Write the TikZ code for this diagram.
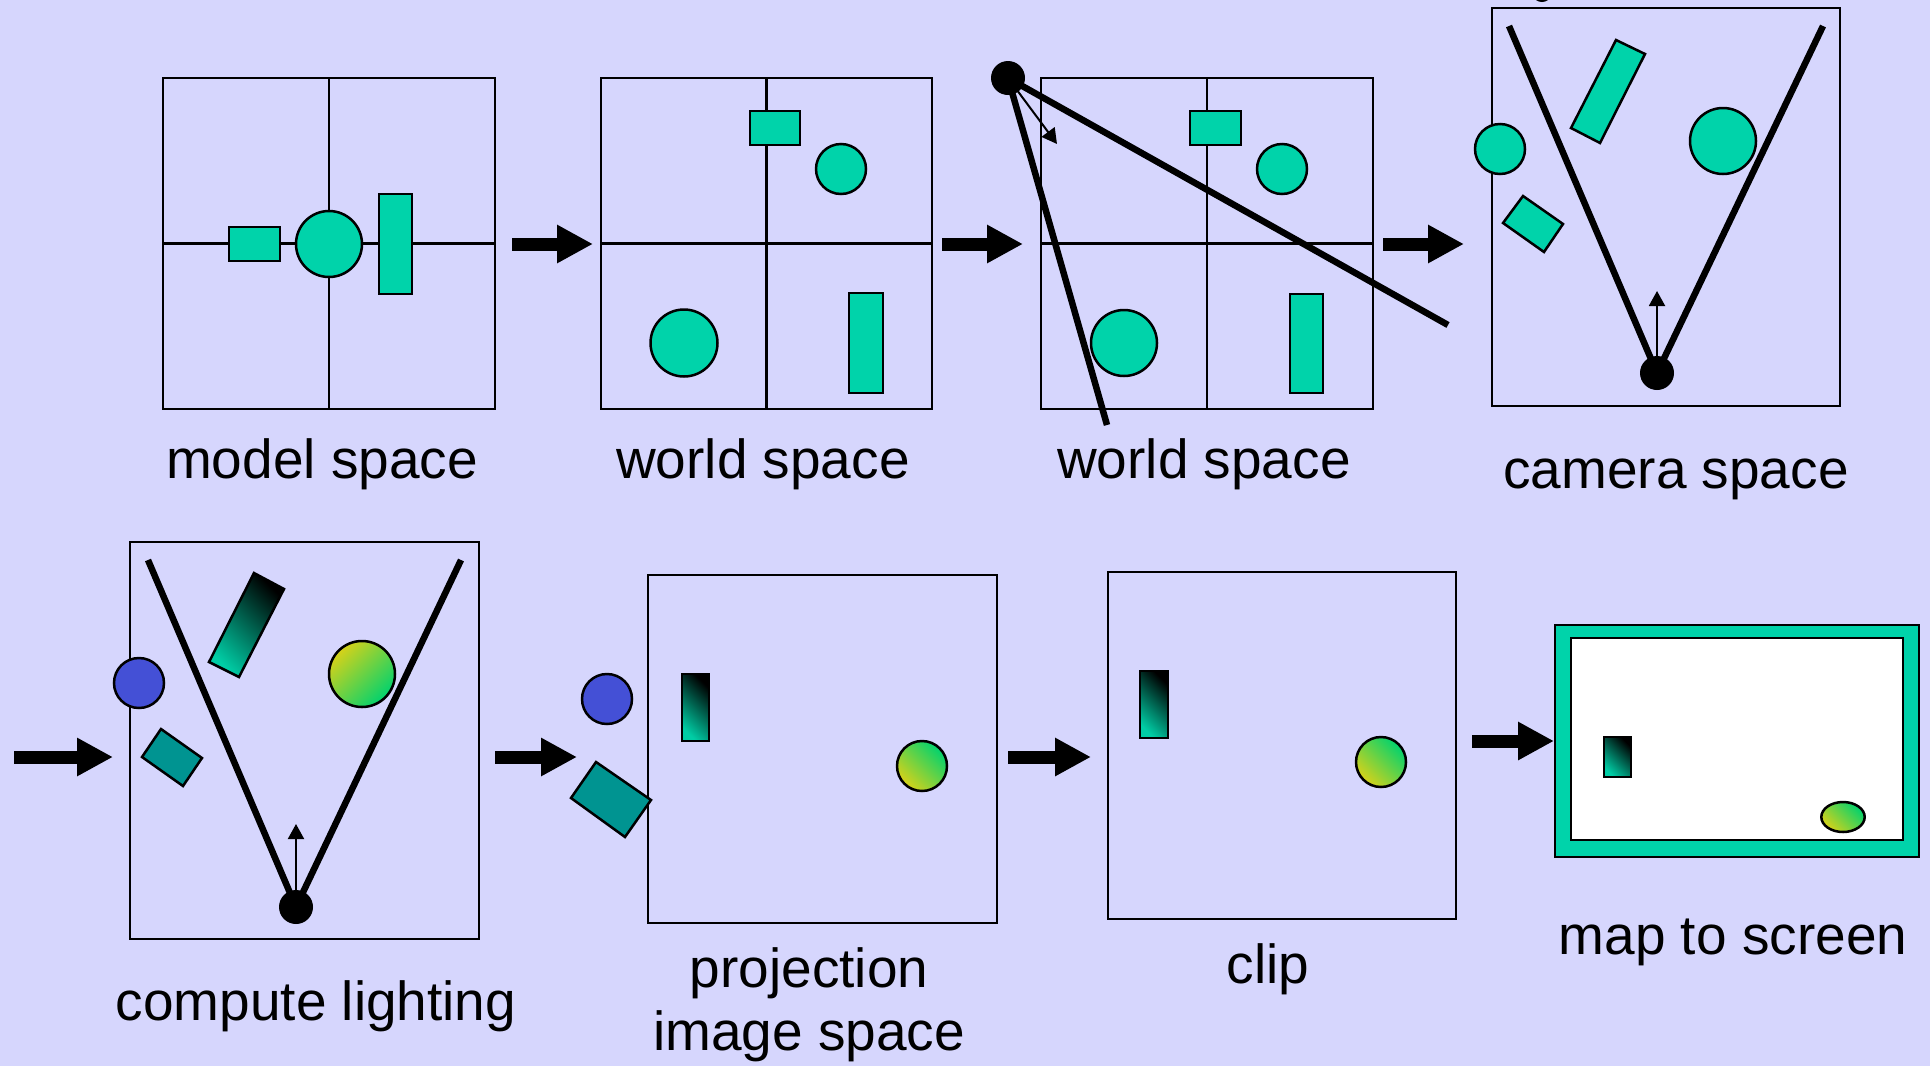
\documentclass[tikz,border=0pt]{standalone}
\usepackage{fontspec}
\setmainfont{Liberation Sans}
\usetikzlibrary{arrows.meta}
\definecolor{bg}{RGB}{214,214,253}
\definecolor{teal1}{RGB}{0,211,170}
\definecolor{blueb}{RGB}{68,80,214}
\definecolor{darkteal}{RGB}{0,148,145}
\definecolor{gradA}{RGB}{0,205,165}
\definecolor{yel}{RGB}{215,210,25}
\definecolor{grn}{RGB}{0,210,110}
\tikzset{
  panel/.style={draw=black, line width=2.5pt, rectangle, inner sep=0pt, outer sep=0pt},
  gridline/.style={draw=black, line width=2.5pt},
  obj/.style={draw=black, line width=2.5pt, fill=teal1},
  bigarrow/.style={line width=13pt, -{Triangle[length=36pt,width=36pt]}},
  fov/.style={line width=6.5pt},
  eyedot/.style={circle, fill=black, inner sep=0pt, outer sep=0pt, minimum size=34pt},
  dirarrow/.style={line width=2pt, -{Triangle[length=15pt,width=16pt]}},
  lbl/.style={font=\fontsize{55}{62}\selectfont, anchor=base, inner sep=0pt},
  tealgrad/.style={draw=black, line width=2.5pt, left color=gradA, right color=black, shading angle=135},
  ballLL/.style={draw=black, line width=2.5pt, left color=yel, right color=grn, shading angle=135},
  ballUL/.style={draw=black, line width=2.5pt, left color=yel, right color=grn, shading angle=45},
}
\begin{document}
\begin{tikzpicture}[x=1pt,y=-1pt]
\useasboundingbox (0,0) rectangle (1930,1066);
\fill[bg] (0,0) rectangle (1930,1066);
% tiny clipped mark at top
\fill[black] (1542,-4) ellipse (8 and 6);

% ---------------- panel 1: model space
\node[panel, minimum width=332pt, minimum height=331pt] (p1) at (329,243.5) {};
\draw[gridline] (p1.north) -- (p1.south);
\draw[gridline] (p1.west) -- (p1.east);
\draw[obj] (229,227) rectangle (280,261);
\draw[obj] (329,244) circle (33);
\draw[obj] (379,194) rectangle (412,294);
\node[lbl] (l1) at (322,478) {model space};

% ---------------- panel 2: world space
\node[panel, minimum width=331pt, minimum height=331pt] (p2) at (766.5,243.5) {};
\draw[gridline] (p2.north) -- (p2.south);
\draw[gridline] (p2.west) -- (p2.east);
\draw[obj] (750,111) rectangle (800,145);
\draw[obj] (841,169) circle (25);
\draw[obj] (684,343) circle (33.5);
\draw[obj] (849,293) rectangle (883,393);
\node[lbl] (l2) at (763,478) {world space};

% ---------------- panel 3: world space with camera
\node[panel, minimum width=332pt, minimum height=331pt] (p3) at (1207,243.5) {};
\draw[gridline] (p3.north) -- (p3.south);
\draw[gridline] (p3.west) -- (p3.east);
\draw[obj] (1190,111) rectangle (1241,145);
\draw[obj] (1282,169) circle (25);
\draw[obj] (1124,343) circle (33);
\draw[obj] (1290,294) rectangle (1323,393);
\node[eyedot] (e3) at (1008,78) {};
\coordinate (f3a) at (1448,325);
\coordinate (f3b) at (1107,425);
\coordinate (d3) at (1057,144);
\draw[fov] (e3.center) -- (f3a);
\draw[fov] (e3.center) -- (f3b);
\draw[dirarrow] (e3.center) -- (d3);
\node[lbl] (l3) at (1204,478) {world space};

% ---------------- panel 4: camera space
\node[panel, minimum width=348pt, minimum height=398pt] (p4) at (1666,207) {};
\draw[obj] (1616,40) -- (1645,54) -- (1600,143) -- (1571,128) -- cycle;
\draw[obj] (1723,141) circle (33);
\draw[obj] (1500,149) circle (25);
\draw[obj] (1523,196) -- (1563,224) -- (1544,252) -- (1503,223) -- cycle;
\node[eyedot] (e4) at (1657,373) {};
\coordinate (f4a) at (1509,26);
\coordinate (f4b) at (1823,26);
\coordinate (d4) at (1657,291);
\draw[fov] (f4a) -- (e4.center) -- (f4b);
\draw[dirarrow] (e4.center) -- (d4);
\node[lbl] (l4) at (1676,488) {camera space};

% ---------------- panel 5: compute lighting
\node[panel, minimum width=349pt, minimum height=397pt] (p5) at (304.5,740.5) {};
\draw[draw=black, line width=2.5pt, fill=blueb] (139,683) circle (25);
\draw[draw=black, line width=2.5pt, fill=darkteal] (161,729) -- (202,758) -- (183,786) -- (142,757) -- cycle;
\draw[tealgrad] (254,573) -- (284,589) -- (239,677) -- (209,662) -- cycle;
\draw[ballUL] (362,674) circle (33);
\node[eyedot] (e5) at (296,907) {};
\coordinate (f5a) at (148,560);
\coordinate (f5b) at (461,560);
\coordinate (d5) at (296,824);
\draw[fov] (f5a) -- (e5.center) -- (f5b);
\draw[dirarrow] (e5.center) -- (d5);
\node[lbl] (l5) at (316,1020) {compute lighting};

% ---------------- panel 6: projection
\node[panel, minimum width=349pt, minimum height=348pt] (p6) at (822.5,749) {};
\draw[draw=black, line width=2.5pt, fill=blueb] (607,699) circle (25);
\draw[draw=black, line width=2.5pt, fill=darkteal] (596,762) -- (651,800) -- (625,837) -- (571,798) -- cycle;
\draw[tealgrad] (682,674) rectangle (709,741);
\draw[ballLL] (922,766) circle (25);
\node[lbl] (l6a) at (809,987) {projection};
\node[lbl] (l6b) at (809,1050) {image space};

% ---------------- panel 7: clip
\node[panel, minimum width=348pt, minimum height=347pt] (p7) at (1282,745.5) {};
\draw[tealgrad] (1140,671) rectangle (1168,738);
\draw[ballLL] (1381,762) circle (25);
\node[lbl] (l7) at (1268,983) {clip};

% ---------------- panel 8: map to screen
\node[draw=black, line width=2.5pt, fill=teal1, inner sep=0pt, minimum width=364pt, minimum height=232pt] (p8) at (1737,741) {};
\node[draw=black, line width=2.5pt, fill=white, inner sep=0pt, minimum width=332pt, minimum height=202pt] (s8) at (1737,739) {};
\draw[tealgrad] (1604,737) rectangle (1631,777);
\draw[ballLL] (1843,817) ellipse (21.7 and 15);
\node[lbl] (l8) at (1733,954) {map to screen};

% ---------------- arrows
\coordinate (a1s) at (512,244);  \coordinate (a1t) at (593,244);
\coordinate (a2s) at (942,244);  \coordinate (a2t) at (1023,244);
\coordinate (a3s) at (1383,244); \coordinate (a3t) at (1464,244);
\coordinate (a4s) at (14,757);   \coordinate (a4t) at (113,757);
\coordinate (a5s) at (495,757);  \coordinate (a5t) at (577,757);
\coordinate (a6s) at (1008,757); \coordinate (a6t) at (1091,757);
\coordinate (a7s) at (1472,741); \coordinate (a7t) at (1554,741);
\foreach \a in {1,...,7} {\draw[bigarrow] (a\a s) -- (a\a t);}
\end{tikzpicture}
\end{document}
